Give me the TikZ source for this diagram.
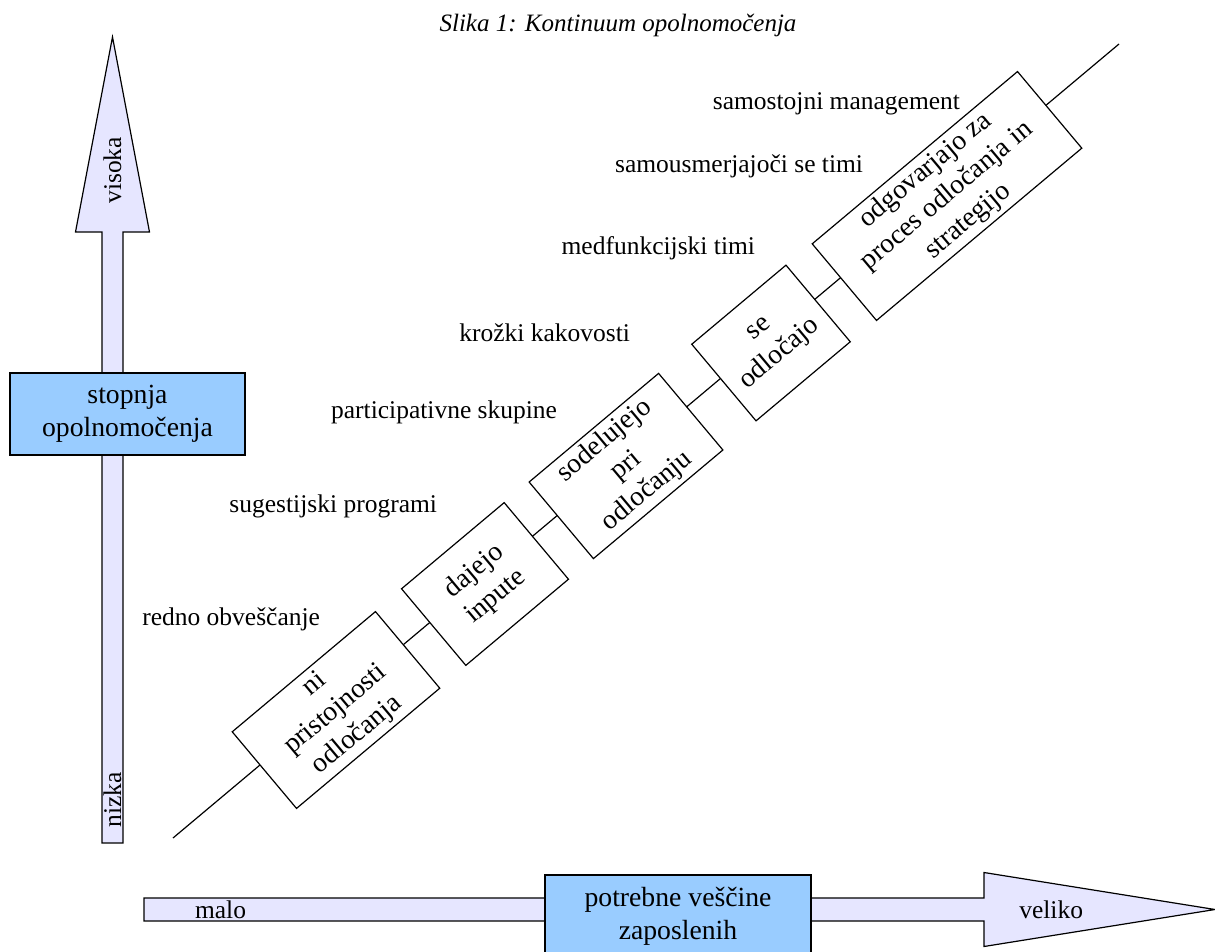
\documentclass[tikz,border=0pt]{standalone}
\usepackage{fontspec}
\setmainfont{Liberation Serif}
\definecolor{keyblue}{HTML}{99CCFF}
\definecolor{axisfill}{HTML}{E6E6FF}
\begin{document}
\begin{tikzpicture}[x=0.5pt, y=0.5pt,
        every node/.style={inner sep=0pt, outer sep=0pt},
        stagebox/.style={draw, fill=white, line width=0.6pt, rotate=40, align=center,
            minimum height=50pt, font=\fontsize{13.85}{16.5}\selectfont},
        stagelabel/.style={anchor=base east, font=\fontsize{12.75}{15}\selectfont},
        axislabel/.style={font=\fontsize{12.75}{15}\selectfont},
        keybox/.style={draw, fill=keyblue, line width=0.6pt, align=center,
            minimum width=117.5pt, minimum height=41pt, font=\fontsize{13.85}{16.5}\selectfont},
        axisarrow/.style={draw, fill=axisfill, line width=0.6pt}]
    \useasboundingbox (0,0) rectangle (1215,-952);

    % Title
    \node[anchor=base, font=\fontsize{12.5}{15}\selectfont\itshape] (title) at (618,-32) {Slika 1: Kontinuum opolnomočenja};

    % Vertical axis
    \draw[axisarrow] (102,-843) -- (102,-232) -- (75.5,-232) -- (112.5,-37)
        -- (149.5,-232) -- (123,-232) -- (123,-843) -- cycle;
    \node[axislabel, rotate=90, anchor=east] (visoka) at (112.5,-137) {visoka};
    \node[axislabel, rotate=90] (nizka) at (112.5,-800) {nizka};
    \node[keybox] (stopnja) at (127.5,-414) {stopnja\\opolnomočenja};

    % Horizontal axis
    \draw[axisarrow] (144,-898) -- (984,-898) -- (984,-872.5) -- (1215,-909.5)
        -- (984,-946.5) -- (984,-921) -- (144,-921) -- cycle;
    \node[axislabel, anchor=base west] (malo) at (195,-918) {malo};
    \node[axislabel, anchor=base east] (veliko) at (1083,-918) {veliko};
    \node[keybox, minimum width=133pt] (potrebne) at (678,-916) {potrebne veščine\\zaposlenih};

    % Continuum line
    \coordinate (low) at (173,-838);
    \coordinate (high) at (1119,-44);
    \draw[line width=0.6pt] (low) -- (high);

    % Stages
    \node[stagebox, minimum width=93.5pt] (s1) at (336,-710) {ni\\pristojnosti\\odločanja};
    \node[stagebox, minimum width=67pt] (s2) at (485,-584) {dajejo\\inpute};
    \node[stagebox, minimum width=84.5pt] (s3) at (626,-466) {sodelujejo\\pri\\odločanju};
    \node[stagebox, minimum width=61.5pt] (s4) at (771,-343) {se\\odločajo};
    \node[stagebox, minimum width=134pt] (s5) at (947,-196) {odgovarjajo za\\proces odločanja in\\strategijo};

    % Forms
    \node[stagelabel] (f1) at (320,-625) {redno obveščanje};
    \node[stagelabel] (f2) at (437,-512) {sugestijski programi};
    \node[stagelabel] (f3) at (557,-418) {participativne skupine};
    \node[stagelabel] (f4) at (630,-342) {krožki kakovosti};
    \node[stagelabel] (f5) at (755,-255) {medfunkcijski timi};
    \node[stagelabel] (f6) at (863,-173) {samousmerjajoči se timi};
    \node[stagelabel] (f7) at (960,-110) {samostojni management};
\end{tikzpicture}
\end{document}
